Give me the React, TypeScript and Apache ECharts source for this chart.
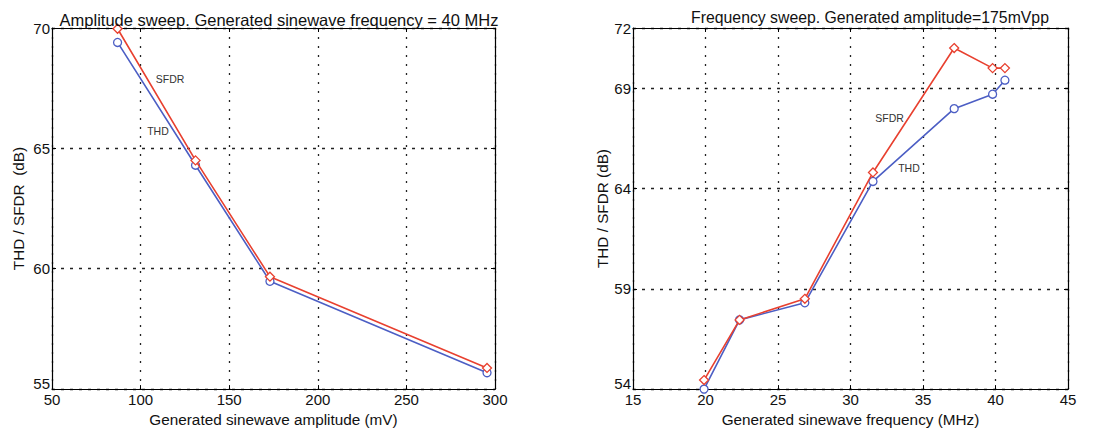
import React, { useEffect, useRef } from "react";
import * as echarts from "echarts";

// Left chart: amplitude sweep
const ampX = [87, 131, 173, 295.5];
const ampSFDR = [69.97, 64.5, 59.67, 55.88];
const ampTHD = [69.4, 64.3, 59.48, 55.68];

// Right chart: frequency sweep
const freqX = [19.9, 22.35, 26.85, 31.55, 37.15, 39.8, 40.65];
const freqSFDR = [54.45, 57.45, 58.5, 64.8, 71.0, 70.0, 70.0];
const freqTHD = [54.0, 57.45, 58.3, 64.35, 67.98, 68.7, 69.4];

const titles = [
  "Amplitude sweep. Generated sinewave frequency = 40 MHz",
  "Frequency sweep. Generated amplitude=175mVpp",
];
const xNames = ["Generated sinewave amplitude (mV)", "Generated sinewave frequency (MHz)"];
const yNames = ["THD / SFDR  (dB)", "THD / SFDR (dB)"];

// annotation positions (data coordinates)
const ampLabels = { SFDR: [116.6, 67.9], THD: [109.8, 65.72] };
const freqLabels = { SFDR: [32.69, 67.5], THD: [34.03, 65.04] };

const FONT = "'Liberation Sans', Arial, sans-serif";
const RED = "#e8402f";
const BLUE = "#4c5ec4";

function zip(xs: number[], ys: number[]) {
  return xs.map((x, i) => [x, ys[i]]);
}

export default function App() {
  const ref = useRef<HTMLDivElement>(null);
  useEffect(() => {
    if (!ref.current) return;
    const chart = echarts.init(ref.current, undefined, { renderer: "svg" });

    const baseX = (gi: number, min: number, max: number, interval: number, name: string) => ({
      type: "value",
      gridIndex: gi,
      min,
      max,
      interval,
      name,
      nameLocation: "middle",
      nameGap: 18,
      nameTextStyle: { fontFamily: FONT, fontSize: 15.3, color: "#111" },
      axisLine: { show: true, lineStyle: { color: "#000", width: 1.2 } },
      axisTick: { show: true, inside: true, length: 4, lineStyle: { color: "#000" } },
      axisLabel: { fontFamily: FONT, fontSize: 15, color: "#111", margin: 3 },
      splitLine: { show: true, lineStyle: { color: "#222", type: [2, 7], width: 1.3 } },
    });
    const mirrorX = (gi: number, min: number, max: number, interval: number) => ({
      type: "value",
      gridIndex: gi,
      position: "top",
      min,
      max,
      interval,
      axisLine: { show: true, lineStyle: { color: "#000", width: 1.2 } },
      axisTick: { show: true, inside: true, length: 4, lineStyle: { color: "#000" } },
      axisLabel: { show: false },
      splitLine: { show: false },
    });
    const baseY = (gi: number, min: number, max: number, interval: number, name: string, gap: number) => ({
      type: "value",
      gridIndex: gi,
      min,
      max,
      interval,
      name,
      nameLocation: "middle",
      nameGap: gap,
      nameTextStyle: { fontFamily: FONT, fontSize: 15.3, color: "#111" },
      axisLine: { show: true, lineStyle: { color: "#000", width: 1.2 } },
      axisTick: { show: true, inside: true, length: 4, lineStyle: { color: "#000" } },
      axisLabel: {
        fontFamily: FONT,
        fontSize: 15,
        color: "#111",
        margin: 2,
        formatter: (v: number) => (v === min ? `{lo|${v}}` : `${v}`),
        rich: { lo: { fontFamily: FONT, fontSize: 15, color: "#111", padding: [0, 0, 12, 0] } },
      },
      splitLine: { show: true, lineStyle: { color: "#222", type: [3, 6], width: 1.3 } },
    });
    const mirrorY = (gi: number, min: number, max: number, interval: number) => ({
      type: "value",
      gridIndex: gi,
      position: "right",
      min,
      max,
      interval,
      axisLine: { show: true, lineStyle: { color: "#000", width: 1.2 } },
      axisTick: { show: true, inside: true, length: 4, lineStyle: { color: "#000" } },
      axisLabel: { show: false },
      splitLine: { show: false },
    });

    const labelPoint = (name: string, coord: number[]) => ({
      symbol: "circle",
      symbolSize: 0,
      silent: true,
      data: [
        {
          coord,
          label: {
            show: true,
            position: [0, 0],
            align: "center",
            verticalAlign: "middle",
            formatter: name,
            fontFamily: FONT,
            fontSize: 10.5,
            color: "#333",
          },
        },
      ],
    });

    const lineSeries = (
      name: string,
      data: number[][],
      color: string,
      symbol: string,
      xi: number,
      yi: number,
      lbl: number[]
    ) => ({
      type: "line",
      name,
      data,
      xAxisIndex: xi,
      yAxisIndex: yi,
      symbol,
      symbolSize: symbol === "diamond" ? 9 : 8,
      showAllSymbol: true,
      lineStyle: { color, width: 1.6 },
      itemStyle: { color: "#fff", borderColor: color, borderWidth: 1.3 },
      markPoint: labelPoint(name, lbl),
      z: name === "SFDR" ? 3 : 2,
    });

    chart.setOption({
      animation: false,
      backgroundColor: "#fff",
      title: [
        {
          text: titles[0],
          left: 274,
          top: 6,
          textAlign: "center",
          textStyle: { fontFamily: FONT, fontSize: 16.5, fontWeight: "normal", color: "#111" },
        },
        {
          text: titles[1],
          left: 865,
          top: 4,
          textAlign: "center",
          textStyle: { fontFamily: FONT, fontSize: 15.8, fontWeight: "normal", color: "#111" },
        },
      ],
      grid: [
        { left: 52, right: 618, top: 28, bottom: 39, show: false },
        { left: 633, right: 45, top: 28, bottom: 39, show: false },
      ],
      xAxis: [
        baseX(0, 50, 300, 50, xNames[0]),
        baseX(1, 15, 45, 5, xNames[1]),
        mirrorX(0, 50, 300, 50),
        mirrorX(1, 15, 45, 5),
      ],
      yAxis: [
        baseY(0, 55, 70, 5, yNames[0], 26),
        baseY(1, 54, 72, 5, yNames[1], 22),
        mirrorY(0, 55, 70, 5),
        mirrorY(1, 54, 72, 5),
      ],
      series: [
        lineSeries("THD", zip(ampX, ampTHD), BLUE, "circle", 0, 0, ampLabels.THD),
        lineSeries("SFDR", zip(ampX, ampSFDR), RED, "diamond", 0, 0, ampLabels.SFDR),
        lineSeries("THD", zip(freqX, freqTHD), BLUE, "circle", 1, 1, freqLabels.THD),
        lineSeries("SFDR", zip(freqX, freqSFDR), RED, "diamond", 1, 1, freqLabels.SFDR),
      ],
    });
    return () => chart.dispose();
  }, []);

  return (
    <div
      ref={ref}
      style={{ position: "fixed", left: 0, top: 0, width: 1113, height: 432, background: "#fff" }}
    />
  );
}
